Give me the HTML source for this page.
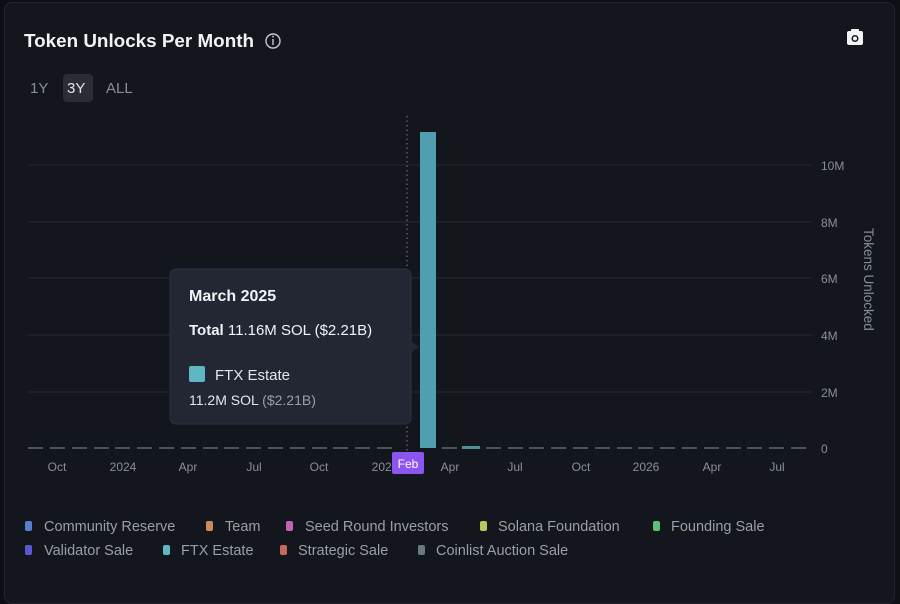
<!DOCTYPE html>
<html><head><meta charset="utf-8"><style>
body{margin:0;background:#0d0f14;font-family:"Liberation Sans",sans-serif;}
.card{position:absolute;left:4px;top:2px;width:889px;height:600px;background:#14161e;border:1px solid #22252e;border-radius:8px;}
</style></head><body>
<div class="card"></div>
<svg width="900" height="588" style="position:absolute;left:0;top:0" font-family="Liberation Sans, sans-serif">
<text x="24" y="47" fill="#f2f3f5" font-size="18" font-weight="bold" textLength="230" lengthAdjust="spacingAndGlyphs">Token Unlocks Per Month</text>
<circle cx="273" cy="41" r="7" fill="none" stroke="#c8cad0" stroke-width="1.4"/>
<line x1="273" y1="39" x2="273" y2="45" stroke="#c8cad0" stroke-width="1.4"/><circle cx="273" cy="36.6" r="0.9" fill="#c8cad0"/>
<rect x="847" y="31" width="16" height="14" rx="2" fill="#f2f3f5"/><rect x="851" y="29" width="8" height="4" rx="1" fill="#f2f3f5"/><circle cx="855" cy="38.5" r="3.5" fill="#14161e"/><circle cx="855" cy="38.5" r="2" fill="#f2f3f5"/>
<text x="30" y="93" fill="#8a8e98" font-size="15">1Y</text>
<rect x="63" y="74" width="30" height="28" rx="4" fill="#2a2d36"/>
<text x="67" y="93" fill="#e4e6ea" font-size="15">3Y</text>
<text x="106" y="93" fill="#8a8e98" font-size="15">ALL</text>
<g stroke="#262a33" stroke-width="1">
<line x1="28" y1="165" x2="812" y2="165"/><line x1="28" y1="222" x2="812" y2="222"/><line x1="28" y1="278" x2="812" y2="278"/><line x1="28" y1="335" x2="812" y2="335"/><line x1="28" y1="392" x2="812" y2="392"/>
</g>
<g fill="#8a8e98" font-size="12">
<text x="821" y="170">10M</text><text x="821" y="227">8M</text><text x="821" y="283">6M</text><text x="821" y="340">4M</text><text x="821" y="397">2M</text><text x="821" y="453">0</text>
</g>
<text transform="translate(864,228) rotate(90)" fill="#8a8e98" font-size="13.5">Tokens Unlocked</text>
<line x1="407" y1="116" x2="407" y2="460" stroke="#6a6e78" stroke-width="1.2" stroke-dasharray="1.5,3"/>
<rect x="420" y="132" width="16" height="316" fill="#4f9fb0"/>
<rect x="462" y="446" width="18" height="3" fill="#4f8f98"/>
<g fill="#8a8e98" font-size="12" text-anchor="middle">
<text x="57" y="471">Oct</text><text x="123" y="471">2024</text><text x="188" y="471">Apr</text><text x="254" y="471">Jul</text><text x="319" y="471">Oct</text><text x="385" y="471">2025</text><text x="450" y="471">Apr</text><text x="515" y="471">Jul</text><text x="581" y="471">Oct</text><text x="646" y="471">2026</text><text x="712" y="471">Apr</text><text x="777" y="471">Jul</text>
</g>
<rect x="392" y="452" width="32" height="22" rx="2" fill="#8b55f0"/>
<text x="408" y="468" fill="#fff" font-size="12" text-anchor="middle">Feb</text>
<rect x="170" y="269" width="241" height="155" rx="6" fill="#232733" stroke="#2e3240"/>
<polygon points="411,341 419,347 411,353" fill="#232733"/>
<text x="189" y="301" fill="#f2f3f5" font-size="16" font-weight="bold">March 2025</text>
<text x="189" y="335" fill="#f2f3f5" font-size="15"><tspan font-weight="bold">Total</tspan> 11.16M SOL ($2.21B)</text>
<rect x="189" y="366" width="16" height="16" rx="2" fill="#5fb6c4"/>
<text x="215" y="380" fill="#e4e6ea" font-size="15">FTX Estate</text>
<text x="189" y="405" fill="#e4e6ea" font-size="14">11.2M SOL <tspan fill="#9a9ea8">($2.21B)</tspan></text>
<g font-size="14.5" fill="#9a9ea8">
<rect x="25" y="521" width="7" height="10" rx="2" fill="#5b7fd0"/><text x="44" y="531">Community Reserve</text>
<rect x="206" y="521" width="7" height="10" rx="2" fill="#c98b5e"/><text x="225" y="531">Team</text>
<rect x="286" y="521" width="7" height="10" rx="2" fill="#c45fb8"/><text x="305" y="531">Seed Round Investors</text>
<rect x="480" y="521" width="7" height="10" rx="2" fill="#b8c860"/><text x="498" y="531">Solana Foundation</text>
<rect x="653" y="521" width="7" height="10" rx="2" fill="#5fbf78"/><text x="671" y="531">Founding Sale</text>
<rect x="25" y="545" width="7" height="10" rx="2" fill="#5a58d0"/><text x="44" y="555">Validator Sale</text>
<rect x="163" y="545" width="7" height="10" rx="2" fill="#5fb6c4"/><text x="181" y="555">FTX Estate</text>
<rect x="280" y="545" width="7" height="10" rx="2" fill="#c86858"/><text x="298" y="555">Strategic Sale</text>
<rect x="418" y="545" width="7" height="10" rx="2" fill="#6a7880"/><text x="436" y="555">Coinlist Auction Sale</text>
</g>
<g fill="#4c525a">
<rect x="28" y="447" width="15" height="2"/><rect x="50" y="447" width="15" height="2"/><rect x="72" y="447" width="15" height="2"/><rect x="94" y="447" width="15" height="2"/><rect x="115" y="447" width="15" height="2"/><rect x="137" y="447" width="15" height="2"/><rect x="159" y="447" width="15" height="2"/><rect x="181" y="447" width="15" height="2"/><rect x="203" y="447" width="15" height="2"/><rect x="224" y="447" width="15" height="2"/><rect x="246" y="447" width="15" height="2"/><rect x="268" y="447" width="15" height="2"/><rect x="290" y="447" width="15" height="2"/><rect x="312" y="447" width="15" height="2"/><rect x="333" y="447" width="15" height="2"/><rect x="355" y="447" width="15" height="2"/><rect x="377" y="447" width="15" height="2"/><rect x="442" y="447" width="15" height="2"/><rect x="486" y="447" width="15" height="2"/><rect x="508" y="447" width="15" height="2"/><rect x="529" y="447" width="15" height="2"/><rect x="551" y="447" width="15" height="2"/><rect x="573" y="447" width="15" height="2"/><rect x="595" y="447" width="15" height="2"/><rect x="617" y="447" width="15" height="2"/><rect x="638" y="447" width="15" height="2"/><rect x="660" y="447" width="15" height="2"/><rect x="682" y="447" width="15" height="2"/><rect x="704" y="447" width="15" height="2"/><rect x="726" y="447" width="15" height="2"/><rect x="747" y="447" width="15" height="2"/><rect x="769" y="447" width="15" height="2"/><rect x="791" y="447" width="15" height="2"/>
</g>
</svg>
</body></html>
